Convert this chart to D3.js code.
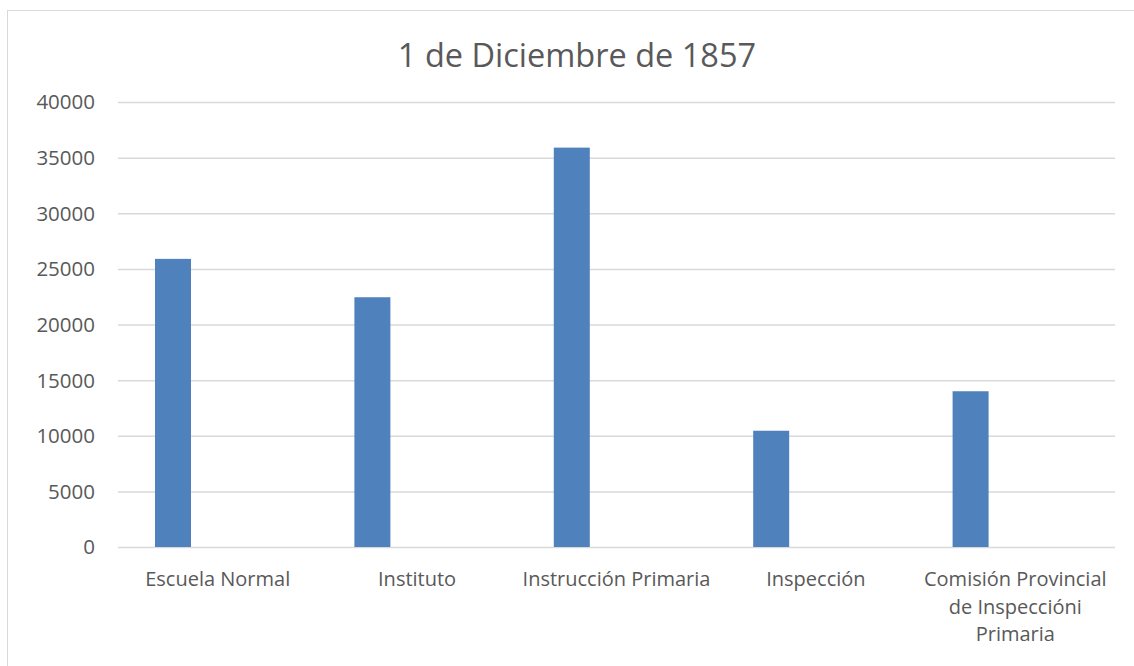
<!DOCTYPE html>
<html>
<meta charset="utf-8">
<title>1 de Diciembre de 1857</title>
<style>
  body { margin: 0; background: #fff; }
  #chart text { font-family: "Open Sans", "Noto Sans", sans-serif; fill: #595959; }
  .grid line { stroke: #d9d9d9; stroke-width: 1.5; }
  .grid .domain { display: none; }
</style>
<body>
<div id="chart"></div>
<script src="https://d3js.org/d3.v7.min.js"></script>
<script>
const categories = ['Escuela Normal', 'Instituto', 'Instrucción Primaria', 'Inspección', 'Comisión Provincial de Inspeccióni Primaria'];
const labelLines = [['Escuela Normal'], ['Instituto'], ['Instrucción Primaria'], ['Inspección'], ['Comisión Provincial', 'de Inspeccióni', 'Primaria']];
const values = [25900, 22450, 35900, 10450, 14000];
const yTicks = [0, 5000, 10000, 15000, 20000, 25000, 30000, 35000, 40000];

const W = 1134, H = 666;
const margin = {top: 102, right: 19, bottom: 119, left: 118};

const svg = d3.select('#chart').append('svg')
  .attr('width', W)
  .attr('height', H);

// chart frame
svg.append('rect')
  .attr('x', 7.5).attr('y', 10.5)
  .attr('width', W + 10).attr('height', H + 10)
  .attr('fill', 'none').attr('stroke', '#d9d9d9');

const x = d3.scaleBand()
  .domain(categories)
  .range([margin.left, W - margin.right]);

// bars sit left of the band centre (one series in a two-slot cluster)
const xs = d3.scaleBand()
  .domain(['v'])
  .range([0, x.bandwidth()])
  .paddingOuter(2.27)
  .align(0.2264);

const y = d3.scaleLinear()
  .domain([0, 40000])
  .range([H - margin.bottom, margin.top]);

svg.append('g')
  .attr('class', 'grid')
  .attr('transform', `translate(${margin.left},0)`)
  .call(d3.axisLeft(y).tickValues(yTicks).tickSize(-(W - margin.left - margin.right)).tickFormat(''));

svg.append('g').selectAll('text')
  .data(yTicks)
  .enter().append('text')
  .attr('x', 95)
  .attr('y', d => y(d))
  .attr('dy', '.36em')
  .attr('text-anchor', 'end')
  .style('font-size', '20.5px')
  .text(d => d);

svg.append('g').selectAll('rect')
  .data(values)
  .enter().append('rect')
  .attr('x', (d, i) => x(categories[i]) + xs('v'))
  .attr('y', d => y(d))
  .attr('width', xs.bandwidth())
  .attr('height', d => y(0) - y(d))
  .attr('fill', '#4f81bd');

const lab = svg.append('g').selectAll('text')
  .data(labelLines)
  .enter().append('text')
  .attr('text-anchor', 'middle')
  .attr('x', (d, i) => x(categories[i]) + x.bandwidth() / 2)
  .attr('y', 586)
  .style('font-size', '20px');

lab.selectAll('tspan')
  .data(d => d)
  .enter().append('tspan')
  .attr('x', function() { return d3.select(this.parentNode).attr('x'); })
  .attr('dy', (d, i) => i === 0 ? 0 : 27.5)
  .text(d => d);

svg.append('text')
  .attr('x', 577)
  .attr('y', 67)
  .attr('text-anchor', 'middle')
  .style('font-size', '32.5px')
  .text('1 de Diciembre de 1857');
</script>
</body>
</html>
